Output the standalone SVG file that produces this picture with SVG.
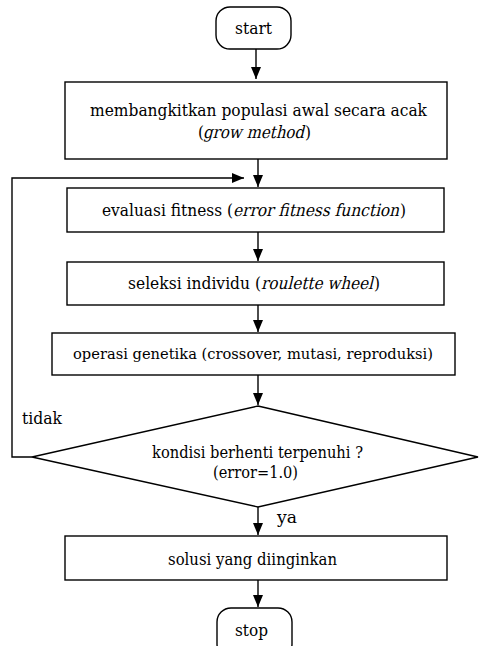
<svg xmlns="http://www.w3.org/2000/svg" width="479" height="646" viewBox="0 0 479 646">
<style>
.n{fill:#fff;stroke:#000;stroke-width:1.4}
.t{font-family:"DejaVu Serif","Liberation Serif",serif;font-size:17px;fill:#000}
.s{font-size:15px}
.c{fill:none;stroke:#000;stroke-width:1.4}
</style>
<defs>
<marker id="ah" markerUnits="userSpaceOnUse" markerWidth="12" markerHeight="12" viewBox="0 0 12 12" refX="12" refY="6" orient="auto">
<path d="M0,1 L12,6 L0,11 Z" fill="#000"/>
</marker>
</defs>
<rect width="479" height="646" fill="#fff"/>
<g id="connectors">
<line class="c" x1="256" y1="49" x2="256" y2="79" marker-end="url(#ah)"/>
<line class="c" x1="258" y1="159" x2="258" y2="187" marker-end="url(#ah)"/>
<polyline class="c" points="32,457 12,457 12,178 244,178" marker-end="url(#ah)"/>
<line class="c" x1="258" y1="232" x2="258" y2="261" marker-end="url(#ah)"/>
<line class="c" x1="258" y1="305" x2="258" y2="332" marker-end="url(#ah)"/>
<line class="c" x1="258" y1="375" x2="258" y2="405" marker-end="url(#ah)"/>
<line class="c" x1="258" y1="507" x2="258" y2="535" marker-end="url(#ah)"/>
<line class="c" x1="258" y1="580" x2="258" y2="607" marker-end="url(#ah)"/>
<text class="t" x="22" y="424" textLength="40" lengthAdjust="spacingAndGlyphs">tidak</text>
<text class="t" x="277" y="523" textLength="20" lengthAdjust="spacingAndGlyphs">ya</text>
</g>
<g id="start">
<rect class="n" x="216" y="7" width="75" height="42" rx="14"/>
<text class="t" x="235" y="34" textLength="37" lengthAdjust="spacingAndGlyphs">start</text>
</g>
<g id="init">
<rect class="n" x="65" y="82" width="382" height="77"/>
<text class="t" x="90" y="116" textLength="337" lengthAdjust="spacingAndGlyphs">membangkitkan populasi awal secara acak</text>
<text class="t" x="198" y="138" textLength="6" lengthAdjust="spacingAndGlyphs">(</text>
<text class="t" transform="translate(203,138) skewX(-14)" x="0" y="0" textLength="101" lengthAdjust="spacingAndGlyphs">grow method</text>
<text class="t" x="305" y="138" textLength="6" lengthAdjust="spacingAndGlyphs">)</text>
</g>
<g id="eval">
<rect class="n" x="67" y="188" width="377" height="44"/>
<text class="t" x="102" y="216" textLength="131" lengthAdjust="spacingAndGlyphs">evaluasi fitness (</text>
<text class="t" transform="translate(233,216) skewX(-14)" x="0" y="0" textLength="166" lengthAdjust="spacingAndGlyphs">error fitness function</text>
<text class="t" x="400" y="216" textLength="6" lengthAdjust="spacingAndGlyphs">)</text>
</g>
<g id="seleksi">
<rect class="n" x="67" y="262" width="377" height="43"/>
<text class="t" x="128" y="289" textLength="133" lengthAdjust="spacingAndGlyphs">seleksi individu (</text>
<text class="t" transform="translate(261,289) skewX(-14)" x="0" y="0" textLength="112" lengthAdjust="spacingAndGlyphs">roulette wheel</text>
<text class="t" x="374" y="289" textLength="6" lengthAdjust="spacingAndGlyphs">)</text>
</g>
<g id="operasi">
<rect class="n" x="52" y="333" width="403" height="42"/>
<text class="t s" x="73" y="359" textLength="360" lengthAdjust="spacingAndGlyphs">operasi genetika (crossover, mutasi, reproduksi)</text>
</g>
<g id="kondisi">
<polygon class="n" points="258,406 478,457 258,507 32,457"/>
<text class="t" x="152" y="458" textLength="211" lengthAdjust="spacingAndGlyphs">kondisi berhenti terpenuhi ?</text>
<text class="t" x="213" y="478" textLength="85" lengthAdjust="spacingAndGlyphs">(error=1.0)</text>
</g>
<g id="solusi">
<rect class="n" x="65" y="536" width="382" height="44"/>
<text class="t" x="168" y="565" textLength="169" lengthAdjust="spacingAndGlyphs">solusi yang diinginkan</text>
</g>
<g id="stop">
<rect class="n" x="217" y="608" width="75" height="50" rx="14"/>
<text class="t" x="235" y="636" textLength="33" lengthAdjust="spacingAndGlyphs">stop</text>
</g>
</svg>
